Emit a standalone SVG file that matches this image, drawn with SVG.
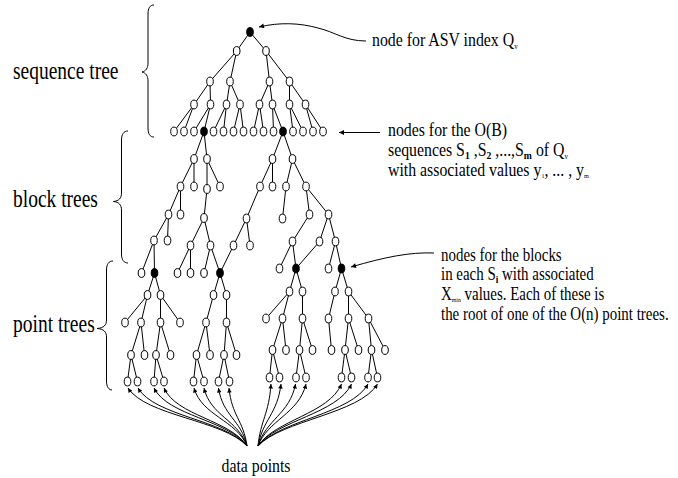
<svg xmlns="http://www.w3.org/2000/svg" xmlns:xlink="http://www.w3.org/1999/xlink" width="678" height="478" viewBox="0 0 678 478">
<style>
.e{stroke:#000;stroke-width:1;fill:none}
.b{stroke:#000;stroke-width:1;fill:none}
.t{font-family:"Liberation Serif","Times New Roman",serif;fill:#000}
.lab{font-size:25px}
.rl{font-size:18px}
</style>
<defs>
<ellipse id="on" cx="0" cy="0" rx="3.3" ry="4.4" fill="#fff" stroke="#000" stroke-width="1"/>
<ellipse id="fn" cx="0" cy="0" rx="3.3" ry="4.4" fill="#000" stroke="#000" stroke-width="1"/>
<marker id="ah" viewBox="0 0 10 10" refX="10" refY="5" markerWidth="6" markerHeight="4.5" orient="auto" markerUnits="userSpaceOnUse"><path d="M0,0 L10,5 L0,10 z" fill="#000"/></marker>
<marker id="ah2" viewBox="0 0 10 10" refX="10" refY="5" markerWidth="8" markerHeight="5" orient="auto" markerUnits="userSpaceOnUse"><path d="M0,0 L10,5 L0,10 z" fill="#000"/></marker>
</defs>

<g id="braces">
<path class="b" d="M154,5 C150,5 148,8 148,14 L148,63 C148,68 146,71 142,72 C146,73 148,76 148,81 L148,128 C148,134 150,137 154,137"/>
<path class="b" d="M128,131 C124,131 121.5,134 121.5,140 L121.5,193 C121.5,198 119,201 113.5,201.5 C119,202 121.5,205 121.5,210 L121.5,254 C121.5,260 124,263 128,263"/>
<path class="b" d="M113,261 C109,261 106.5,264 106.5,270 L106.5,320 C106.5,325 104,328 97,328.5 C104,329 106.5,332 106.5,337 L106.5,381 C106.5,387 109,390 112,390"/>
</g>

<g id="labels" class="t">
<g transform="translate(13,79) scale(0.78,1)"><text class="lab" x="0" y="0">sequence tree</text></g>
<g transform="translate(13,207) scale(0.78,1)"><text class="lab" x="0" y="0">block trees</text></g>
<g transform="translate(13,332) scale(0.78,1)"><text class="lab" x="0" y="0">point trees</text></g>
<g transform="translate(372,46) scale(0.88,1)"><text class="rl" x="0" y="0">node for ASV index Q<tspan dy="3" font-size="8">v</tspan></text></g>
<g transform="translate(388,136) scale(0.88,1)">
<text class="rl" x="0" y="0">nodes for the O(B)</text>
<text class="rl" x="0" y="20">sequences S<tspan dy="3" font-size="11" font-weight="bold">1</tspan><tspan dy="-3"> ,S</tspan><tspan dy="3" font-size="11" font-weight="bold">2</tspan><tspan dy="-3"> ,...,S</tspan><tspan dy="3" font-size="11" font-weight="bold">m</tspan><tspan dy="-3"> of Q</tspan><tspan dy="3" font-size="8">v</tspan></text>
<text class="rl" x="0" y="40.5">with associated values y<tspan dy="2" font-size="7">1</tspan><tspan dy="-2">, ... , y</tspan><tspan dy="2" font-size="7">m</tspan></text>
</g>
<g transform="translate(441,260.5) scale(0.83,1)">
<text class="rl" x="0" y="0">nodes for the blocks</text>
<text class="rl" x="0" y="20">in each S<tspan dy="3" font-size="11" font-weight="bold">i</tspan><tspan dy="-3">  with associated</tspan></text>
<text class="rl" x="0" y="40">X<tspan dy="2" font-size="7">min</tspan><tspan dy="-2"> values. Each of these is</tspan></text>
<text class="rl" x="0" y="60">the root of one of the O(n) point trees.</text>
</g>
<g transform="translate(256,471.5) scale(0.88,1)"><text class="rl" x="0" y="0" text-anchor="middle">data points</text></g>
</g>

<g id="connectors">
<path class="e" d="M366 41 C345 41 335 32 318 28 C300 23 280 22 259 27" marker-end="url(#ah2)"/>
<path class="e" d="M380 132.5 L339 132.5" marker-end="url(#ah2)"/>
<path class="e" d="M434 253 C410 252 385 257 351 267" marker-end="url(#ah2)"/>
<path class="e" d="M250 32L236.7 51"/><path class="e" d="M250 32L266 51"/>
<path class="e" d="M236.7 51L210 81.5"/><path class="e" d="M236.7 51L230 81.5"/>
<path class="e" d="M266 51L269.5 81.5"/><path class="e" d="M266 51L289.5 81.5"/>
<path class="e" d="M210 81.5L194 104.5"/><path class="e" d="M210 81.5L210.5 104.5"/>
<path class="e" d="M230 81.5L226.5 104.5"/><path class="e" d="M230 81.5L240 104.5"/>
<path class="e" d="M269.5 81.5L259.5 104.5"/><path class="e" d="M269.5 81.5L272.5 104.5"/>
<path class="e" d="M289.5 81.5L289.5 104.5"/><path class="e" d="M289.5 81.5L305.5 104.5"/>
<path class="e" d="M194 104.5L174 131.5"/><path class="e" d="M194 104.5L184 131.5"/>
<path class="e" d="M210.5 104.5L194 131.5"/><path class="e" d="M210.5 104.5L204 131.5"/>
<path class="e" d="M226.5 104.5L213.5 131.5"/><path class="e" d="M226.5 104.5L223.5 131.5"/>
<path class="e" d="M240 104.5L233.5 131.5"/><path class="e" d="M240 104.5L243.5 131.5"/>
<path class="e" d="M259.5 104.5L253.5 131.5"/><path class="e" d="M259.5 104.5L263.5 131.5"/>
<path class="e" d="M272.5 104.5L273.5 131.5"/><path class="e" d="M272.5 104.5L283 131.5"/>
<path class="e" d="M289.5 104.5L293 131.5"/><path class="e" d="M289.5 104.5L303 131.5"/>
<path class="e" d="M305.5 104.5L313 131.5"/><path class="e" d="M305.5 104.5L323 131.5"/>
<path class="e" d="M204 131.5L194 159"/><path class="e" d="M204 131.5L207 159"/>
<path class="e" d="M194 159L180.5 186.5"/><path class="e" d="M194 159L194 186.5"/>
<path class="e" d="M207 159L207 189"/><path class="e" d="M207 159L220 186.5"/>
<path class="e" d="M180.5 186.5L168.5 214.5"/><path class="e" d="M180.5 186.5L180.5 214.5"/>
<path class="e" d="M207 189L204 218"/>
<path class="e" d="M168.5 214.5L154 240.5"/><path class="e" d="M168.5 214.5L167.5 240.5"/>
<path class="e" d="M204 218L190.5 245.5"/><path class="e" d="M204 218L210.5 245.5"/>
<path class="e" d="M154 240.5L141.5 273"/><path class="e" d="M154 240.5L154.5 273"/>
<path class="e" d="M190.5 245.5L177.5 273"/><path class="e" d="M190.5 245.5L190.5 273"/>
<path class="e" d="M210.5 245.5L204 273"/><path class="e" d="M210.5 245.5L220 273"/>
<path class="e" d="M283 131.5L272.5 159"/><path class="e" d="M283 131.5L292.5 159"/>
<path class="e" d="M272.5 159L260 186.5"/><path class="e" d="M272.5 159L272.5 186.5"/>
<path class="e" d="M292.5 159L286 186.5"/><path class="e" d="M292.5 159L306 186.5"/>
<path class="e" d="M260 186.5L246.5 218.5"/>
<path class="e" d="M286 186.5L282.5 218.5"/>
<path class="e" d="M306 186.5L309.5 214.5"/><path class="e" d="M306 186.5L328.5 214.5"/>
<path class="e" d="M246.5 218.5L233.5 245.5"/><path class="e" d="M246.5 218.5L250 245.5"/>
<path class="e" d="M233.5 245.5L220 273"/>
<path class="e" d="M309.5 214.5L292.5 241.5"/>
<path class="e" d="M328.5 214.5L319.5 241.5"/><path class="e" d="M328.5 214.5L335.5 241.5"/>
<path class="e" d="M292.5 241.5L279.5 268.5"/><path class="e" d="M292.5 241.5L296 268.5"/>
<path class="e" d="M319.5 241.5L296 268.5"/>
<path class="e" d="M335.5 241.5L328.5 268.5"/><path class="e" d="M335.5 241.5L341.5 268.5"/>
<path class="e" d="M154.5 273L147.5 295"/><path class="e" d="M154.5 273L160.5 295"/>
<path class="e" d="M147.5 295L125 322.5"/><path class="e" d="M147.5 295L141 322.5"/>
<path class="e" d="M160.5 295L160.5 322.5"/><path class="e" d="M160.5 295L180 322.5"/>
<path class="e" d="M141 322.5L131 355"/><path class="e" d="M141 322.5L144.5 355"/>
<path class="e" d="M160.5 322.5L156 355"/><path class="e" d="M160.5 322.5L170.5 355"/>
<path class="e" d="M131 355L127.5 381.5"/><path class="e" d="M131 355L137.5 381.5"/>
<path class="e" d="M156 355L154 381.5"/><path class="e" d="M156 355L164 381.5"/>
<path class="e" d="M220 273L213.5 295"/><path class="e" d="M220 273L226.5 295"/>
<path class="e" d="M213.5 295L206 322.5"/><path class="e" d="M226.5 295L226.5 322.5"/>
<path class="e" d="M206 322.5L196.5 355"/><path class="e" d="M206 322.5L210 355"/>
<path class="e" d="M226.5 322.5L224 355"/><path class="e" d="M226.5 322.5L236.5 355"/>
<path class="e" d="M196.5 355L193.5 381.5"/><path class="e" d="M196.5 355L204 381.5"/>
<path class="e" d="M224 355L218.5 381.5"/><path class="e" d="M224 355L229.5 381.5"/>
<path class="e" d="M296 268.5L289.5 291.5"/><path class="e" d="M296 268.5L302.5 291.5"/>
<path class="e" d="M289.5 291.5L266 318.5"/><path class="e" d="M289.5 291.5L282.5 318.5"/>
<path class="e" d="M302.5 291.5L302.5 318.5"/>
<path class="e" d="M282.5 318.5L272.5 350"/><path class="e" d="M282.5 318.5L286 350"/>
<path class="e" d="M302.5 318.5L299.5 350"/><path class="e" d="M302.5 318.5L312.5 350"/>
<path class="e" d="M272.5 350L269.5 377.5"/><path class="e" d="M272.5 350L279.5 377.5"/>
<path class="e" d="M299.5 350L296 377.5"/><path class="e" d="M299.5 350L306 377.5"/>
<path class="e" d="M341.5 268.5L335 291.5"/><path class="e" d="M341.5 268.5L348.5 291.5"/>
<path class="e" d="M335 291.5L328.5 318.5"/>
<path class="e" d="M348.5 291.5L348.5 318.5"/><path class="e" d="M348.5 291.5L368.5 318.5"/>
<path class="e" d="M328.5 318.5L331.5 350"/>
<path class="e" d="M348.5 318.5L345 350"/><path class="e" d="M348.5 318.5L358.5 350"/>
<path class="e" d="M368.5 318.5L371.5 350"/><path class="e" d="M368.5 318.5L385 350"/>
<path class="e" d="M345 350L341.5 377.5"/><path class="e" d="M345 350L351.5 377.5"/>
<path class="e" d="M371.5 350L368 377.5"/><path class="e" d="M371.5 350L377.5 377.5"/>
<path class="e" d="M247 446 C223.2 420 145.9 416 128 388" marker-end="url(#ah)"/>
<path class="e" d="M247 446 C225.2 420 154.4 416 138 388" marker-end="url(#ah)"/>
<path class="e" d="M247 446 C228.4 420 168 416 154 388" marker-end="url(#ah)"/>
<path class="e" d="M247 446 C230.4 420 176.5 416 164 388" marker-end="url(#ah)"/>
<path class="e" d="M247 446 C236.4 420 202 416 194 388" marker-end="url(#ah)"/>
<path class="e" d="M247 446 C238.4 420 210.5 416 204 388" marker-end="url(#ah)"/>
<path class="e" d="M247 446 C241.3 420 222.8 416 218.5 388" marker-end="url(#ah)"/>
<path class="e" d="M247 446 C243.4 420 231.7 416 229 388" marker-end="url(#ah)"/>
<path class="e" d="M258 446 C260.6 420 269 414 271 384" marker-end="url(#ah)"/>
<path class="e" d="M258 446 C262.6 420 277.5 414 281 384" marker-end="url(#ah)"/>
<path class="e" d="M258 446 C265.5 420 289.9 414 295.5 384" marker-end="url(#ah)"/>
<path class="e" d="M258 446 C267.6 420 298.8 414 306 384" marker-end="url(#ah)"/>
<path class="e" d="M258 446 C274.7 420 329 414 341.5 384" marker-end="url(#ah)"/>
<path class="e" d="M258 446 C276.7 420 337.5 414 351.5 384" marker-end="url(#ah)"/>
<path class="e" d="M258 446 C280 420 351.5 414 368 384" marker-end="url(#ah)"/>
<path class="e" d="M258 446 C281.9 420 359.6 414 377.5 384" marker-end="url(#ah)"/>
</g>

<g id="nodes">
<g id="seq-root"><use href="#fn" x="250" y="32"/></g>
<g id="s-a1"><use href="#on" x="236.7" y="51"/></g>
<g id="s-a2"><use href="#on" x="266" y="51"/></g>
<g id="s-b1"><use href="#on" x="210" y="81.5"/></g>
<g id="s-b2"><use href="#on" x="230" y="81.5"/></g>
<g id="s-b3"><use href="#on" x="269.5" y="81.5"/></g>
<g id="s-b4"><use href="#on" x="289.5" y="81.5"/></g>
<g id="s-c1"><use href="#on" x="194" y="104.5"/></g>
<g id="s-c2"><use href="#on" x="210.5" y="104.5"/></g>
<g id="s-c3"><use href="#on" x="226.5" y="104.5"/></g>
<g id="s-c4"><use href="#on" x="240" y="104.5"/></g>
<g id="s-c5"><use href="#on" x="259.5" y="104.5"/></g>
<g id="s-c6"><use href="#on" x="272.5" y="104.5"/></g>
<g id="s-c7"><use href="#on" x="289.5" y="104.5"/></g>
<g id="s-c8"><use href="#on" x="305.5" y="104.5"/></g>
<g id="s-d0"><use href="#on" x="174" y="131.5"/></g>
<g id="s-d1"><use href="#on" x="184" y="131.5"/></g>
<g id="s-d2"><use href="#on" x="194" y="131.5"/></g>
<g id="s-d3"><use href="#fn" x="204" y="131.5"/></g>
<g id="s-d4"><use href="#on" x="213.5" y="131.5"/></g>
<g id="s-d5"><use href="#on" x="223.5" y="131.5"/></g>
<g id="s-d6"><use href="#on" x="233.5" y="131.5"/></g>
<g id="s-d7"><use href="#on" x="243.5" y="131.5"/></g>
<g id="s-d8"><use href="#on" x="253.5" y="131.5"/></g>
<g id="s-d9"><use href="#on" x="263.5" y="131.5"/></g>
<g id="s-d10"><use href="#on" x="273.5" y="131.5"/></g>
<g id="s-d11"><use href="#fn" x="283" y="131.5"/></g>
<g id="s-d12"><use href="#on" x="293" y="131.5"/></g>
<g id="s-d13"><use href="#on" x="303" y="131.5"/></g>
<g id="s-d14"><use href="#on" x="313" y="131.5"/></g>
<g id="s-d15"><use href="#on" x="323" y="131.5"/></g>

<g id="lb-e1"><use href="#on" x="194" y="159"/></g>
<g id="lb-e2"><use href="#on" x="207" y="159"/></g>
<g id="lb-f1"><use href="#on" x="180.5" y="186.5"/></g>
<g id="lb-f2"><use href="#on" x="194" y="186.5"/></g>
<g id="lb-f3"><use href="#on" x="207" y="189"/></g>
<g id="lb-f4"><use href="#on" x="220" y="186.5"/></g>
<g id="lb-g1"><use href="#on" x="168.5" y="214.5"/></g>
<g id="lb-g2"><use href="#on" x="180.5" y="214.5"/></g>
<g id="lb-g3"><use href="#on" x="204" y="218"/></g>
<g id="lb-h1"><use href="#on" x="154" y="240.5"/></g>
<g id="lb-h2"><use href="#on" x="167.5" y="240.5"/></g>
<g id="lb-h3"><use href="#on" x="190.5" y="245.5"/></g>
<g id="lb-h4"><use href="#on" x="210.5" y="245.5"/></g>
<g id="lb-p1"><use href="#on" x="141.5" y="273"/></g>
<g id="ptA-root"><use href="#fn" x="154.5" y="273"/></g>
<g id="lb-p2"><use href="#on" x="177.5" y="273"/></g>
<g id="lb-p3"><use href="#on" x="190.5" y="273"/></g>
<g id="lb-p4"><use href="#on" x="204" y="273"/></g>
<g id="ptB-root"><use href="#fn" x="220" y="273"/></g>

<g id="rb-i1"><use href="#on" x="272.5" y="159"/></g>
<g id="rb-i2"><use href="#on" x="292.5" y="159"/></g>
<g id="rb-j1"><use href="#on" x="260" y="186.5"/></g>
<g id="rb-j2"><use href="#on" x="272.5" y="186.5"/></g>
<g id="rb-j3"><use href="#on" x="286" y="186.5"/></g>
<g id="rb-j4"><use href="#on" x="306" y="186.5"/></g>
<g id="rb-k1"><use href="#on" x="246.5" y="218.5"/></g>
<g id="rb-k2"><use href="#on" x="282.5" y="218.5"/></g>
<g id="rb-k3"><use href="#on" x="309.5" y="214.5"/></g>
<g id="rb-k4"><use href="#on" x="328.5" y="214.5"/></g>
<g id="rb-l1"><use href="#on" x="233.5" y="245.5"/></g>
<g id="rb-l2"><use href="#on" x="250" y="245.5"/></g>
<g id="rb-l3"><use href="#on" x="292.5" y="241.5"/></g>
<g id="rb-l4"><use href="#on" x="319.5" y="241.5"/></g>
<g id="rb-l5"><use href="#on" x="335.5" y="241.5"/></g>
<g id="rb-q1"><use href="#on" x="279.5" y="268.5"/></g>
<g id="ptC-root"><use href="#fn" x="296" y="268.5"/></g>
<g id="rb-q2"><use href="#on" x="328.5" y="268.5"/></g>
<g id="ptD-root"><use href="#fn" x="341.5" y="268.5"/></g>

<g id="A1"><use href="#on" x="147.5" y="295"/></g>
<g id="A2"><use href="#on" x="160.5" y="295"/></g>
<g id="A3"><use href="#on" x="125" y="322.5"/></g>
<g id="A4"><use href="#on" x="141" y="322.5"/></g>
<g id="A5"><use href="#on" x="160.5" y="322.5"/></g>
<g id="A6"><use href="#on" x="180" y="322.5"/></g>
<g id="A7"><use href="#on" x="131" y="355"/></g>
<g id="A8"><use href="#on" x="144.5" y="355"/></g>
<g id="A9"><use href="#on" x="156" y="355"/></g>
<g id="A10"><use href="#on" x="170.5" y="355"/></g>
<g id="A11"><use href="#on" x="127.5" y="381.5"/></g>
<g id="A12"><use href="#on" x="137.5" y="381.5"/></g>
<g id="A13"><use href="#on" x="154" y="381.5"/></g>
<g id="A14"><use href="#on" x="164" y="381.5"/></g>

<g id="B1"><use href="#on" x="213.5" y="295"/></g>
<g id="B2"><use href="#on" x="226.5" y="295"/></g>
<g id="B3"><use href="#on" x="206" y="322.5"/></g>
<g id="B4"><use href="#on" x="226.5" y="322.5"/></g>
<g id="B5"><use href="#on" x="196.5" y="355"/></g>
<g id="B6"><use href="#on" x="210" y="355"/></g>
<g id="B7"><use href="#on" x="224" y="355"/></g>
<g id="B8"><use href="#on" x="236.5" y="355"/></g>
<g id="B9"><use href="#on" x="193.5" y="381.5"/></g>
<g id="B10"><use href="#on" x="204" y="381.5"/></g>
<g id="B11"><use href="#on" x="218.5" y="381.5"/></g>
<g id="B12"><use href="#on" x="229.5" y="381.5"/></g>

<g id="C1"><use href="#on" x="289.5" y="291.5"/></g>
<g id="C2"><use href="#on" x="302.5" y="291.5"/></g>
<g id="C3"><use href="#on" x="266" y="318.5"/></g>
<g id="C4"><use href="#on" x="282.5" y="318.5"/></g>
<g id="C5"><use href="#on" x="302.5" y="318.5"/></g>
<g id="C6"><use href="#on" x="272.5" y="350"/></g>
<g id="C7"><use href="#on" x="286" y="350"/></g>
<g id="C8"><use href="#on" x="299.5" y="350"/></g>
<g id="C9"><use href="#on" x="312.5" y="350"/></g>
<g id="C10"><use href="#on" x="269.5" y="377.5"/></g>
<g id="C11"><use href="#on" x="279.5" y="377.5"/></g>
<g id="C12"><use href="#on" x="296" y="377.5"/></g>
<g id="C13"><use href="#on" x="306" y="377.5"/></g>

<g id="D1"><use href="#on" x="335" y="291.5"/></g>
<g id="D2"><use href="#on" x="348.5" y="291.5"/></g>
<g id="D3"><use href="#on" x="328.5" y="318.5"/></g>
<g id="D4"><use href="#on" x="348.5" y="318.5"/></g>
<g id="D5"><use href="#on" x="368.5" y="318.5"/></g>
<g id="D6"><use href="#on" x="331.5" y="350"/></g>
<g id="D7"><use href="#on" x="345" y="350"/></g>
<g id="D8"><use href="#on" x="358.5" y="350"/></g>
<g id="D9"><use href="#on" x="371.5" y="350"/></g>
<g id="D10"><use href="#on" x="385" y="350"/></g>
<g id="D11"><use href="#on" x="341.5" y="377.5"/></g>
<g id="D12"><use href="#on" x="351.5" y="377.5"/></g>
<g id="D13"><use href="#on" x="368" y="377.5"/></g>
<g id="D14"><use href="#on" x="377.5" y="377.5"/></g>
</g>
</svg>
